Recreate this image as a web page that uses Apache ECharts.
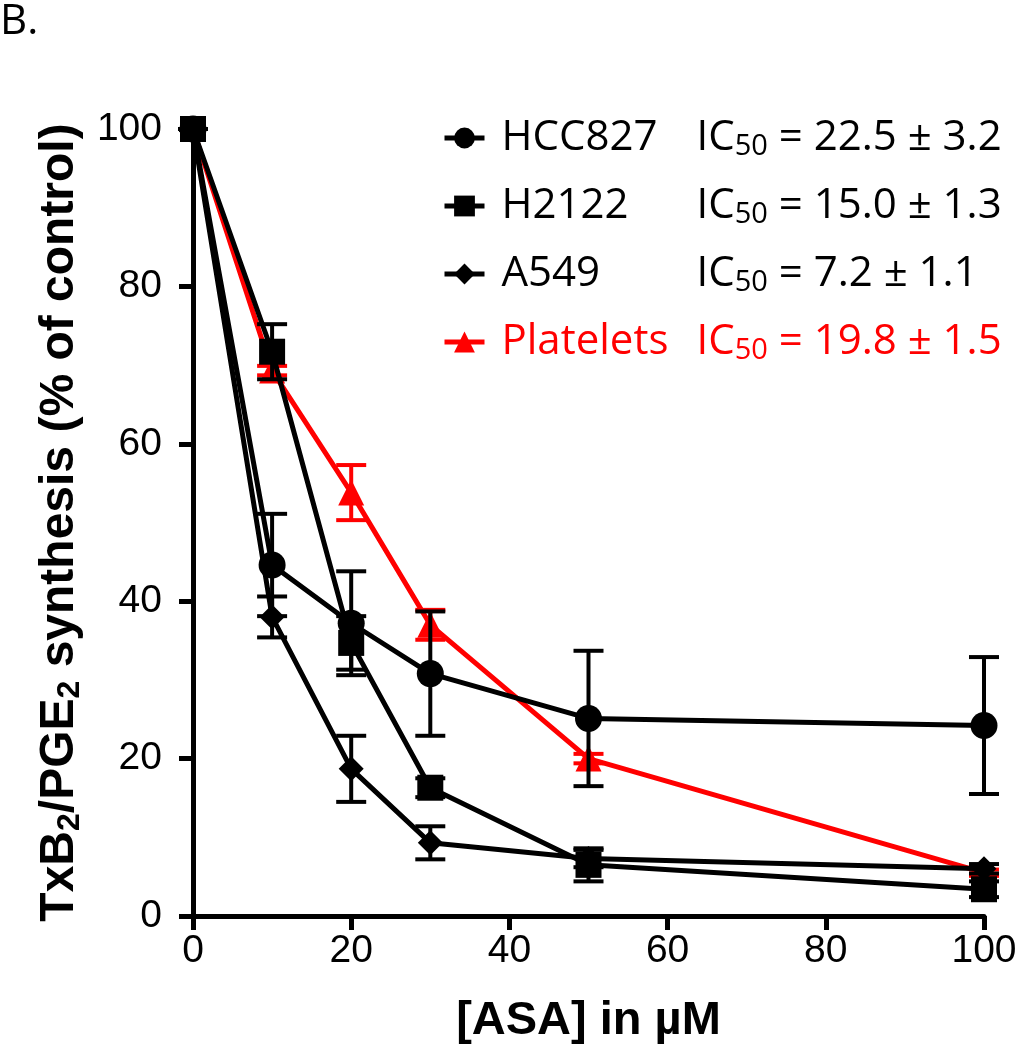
<!DOCTYPE html>
<html><head><meta charset="utf-8">
<script src="https://cdn.jsdelivr.net/npm/echarts@6/dist/echarts.min.js"></script>
<style>html,body{margin:0;padding:0;background:#fff}#c{width:1020px;height:1050px}</style>
</head><body><div id="c"></div>
<script>
const xValues = [0, 10, 20, 30, 50, 100];
const hcc827 = [100, 44.6, 37.2, 30.8, 25.1, 24.2];
const hcc827Err = [0, 6.5, 6.6, 7.9, 8.6, 8.7];
const h2122 = [100, 71.7, 34.7, 16.3, 6.5, 3.4];
const h2122Err = [0, 3.5, 3.4, 1.2, 2.1, 1.0];
const a549 = [100, 38.0, 18.7, 9.3, 7.3, 6.0];
const a549Err = [0, 2.6, 4.2, 2.1, 1.1, 0.6];
const platelets = [100, 69.3, 53.8, 37.0, 20.0, 5.5];
const plateletsErr = [0, 0.6, 3.5, 1.9, 0.6, 0.4];
const seriesNames = ['HCC827', 'H2122', 'A549', 'Platelets'];
const ic50Texts = ['= 22.5 ± 3.2', '= 15.0 ± 1.3', '= 7.2 ± 1.1', '= 19.8 ± 1.5'];
const xTicks = [0, 20, 40, 60, 80, 100];

const chart = echarts.init(document.getElementById('c'));
const pts = ys => xValues.map((x, i) => [x, ys[i]]);
const errData = (ys, es) => xValues.map((x, i) => [x, ys[i] - es[i], ys[i] + es[i]]);

function errSeries(ys, es, color, z) {
  return {
    type: 'custom', z: z, silent: true,
    data: errData(ys, es),
    renderItem: function (params, api) {
      const x = api.value(0);
      const lo = api.coord([x, api.value(1)]);
      const hi = api.coord([x, api.value(2)]);
      const hw = 15;
      const st = { stroke: color, lineWidth: 4 };
      return { type: 'group', children: [
        { type: 'line', shape: { x1: lo[0], y1: lo[1], x2: hi[0], y2: hi[1] }, style: st },
        { type: 'line', shape: { x1: lo[0] - hw, y1: lo[1], x2: lo[0] + hw, y2: lo[1] }, style: st },
        { type: 'line', shape: { x1: hi[0] - hw, y1: hi[1], x2: hi[0] + hw, y2: hi[1] }, style: st }
      ]};
    }
  };
}
function lineSeries(name, ys, color, symbol, size, z) {
  return {
    name: name, type: 'line', z: z, data: pts(ys),
    symbol: symbol, symbolSize: size, showAllSymbol: true,
    lineStyle: { color: color, width: 5 },
    itemStyle: { color: color },
    emphasis: { disabled: true }, animation: false
  };
}
const colors = ['#000', '#000', '#000', '#ff0000'];

chart.setOption({
  animation: false,
  backgroundColor: '#fff',
  grid: { left: 193, right: 36, top: 129, bottom: 131 },
  graphic: [{ type: 'text', left: 0, top: 1,
    style: { text: 'B.', font: '42px "Open Sans"', fill: '#000' } }],
  legend: {
    orient: 'vertical', left: 437, top: 112, itemGap: 24,
    itemWidth: 40, itemHeight: 26, selectedMode: false,
    lineStyle: { width: 5 },
    data: seriesNames.map((n, i) => ({ name: n, textStyle: { color: colors[i] } })),
    formatter: function (name) {
      const i = seriesNames.indexOf(name);
      return '{n|' + name + '}{m|IC}{s|50}{m| ' + ic50Texts[i] + '}';
    },
    textStyle: {
      fontFamily: 'Open Sans', fontSize: 42, padding: [0, 0, 0, 12],
      rich: {
        n: { fontFamily: 'Open Sans', fontSize: 42, width: 195, lineHeight: 46 },
        m: { fontFamily: 'Open Sans', fontSize: 42, lineHeight: 46 },
        s: { fontFamily: 'Open Sans', fontSize: 29, lineHeight: 12, verticalAlign: 'bottom' }
      }
    }
  },
  xAxis: {
    type: 'value', min: 0, max: 100, interval: 20,
    name: '[ASA] in µM', nameLocation: 'middle', nameGap: 82,
    nameTextStyle: { fontFamily: 'Liberation Sans', fontWeight: 'bold', fontSize: 47, color: '#000' },
    axisLine: { lineStyle: { color: '#000', width: 5 } },
    axisTick: { length: 14, lineStyle: { color: '#000', width: 5 } },
    axisLabel: { fontFamily: 'Liberation Sans', fontSize: 39, color: '#000', margin: 16,
      formatter: v => xTicks.includes(v) ? String(v) : '' },
    splitLine: { show: false }
  },
  yAxis: {
    type: 'value', min: 0, max: 100, interval: 20,
    name: '{b|TxB}{s|2}{b|/PGE}{s|2}{b| synthesis (% of control)}',
    nameLocation: 'middle', nameGap: 100, nameRotate: 90,
    nameTextStyle: {
      fontFamily: 'Liberation Sans', fontWeight: 'bold', fontSize: 48, color: '#000',
      rich: {
        b: { fontFamily: 'Liberation Sans', fontWeight: 'bold', fontSize: 48, lineHeight: 52 },
        s: { fontFamily: 'Liberation Sans', fontWeight: 'bold', fontSize: 32, lineHeight: 12, verticalAlign: 'bottom' }
      }
    },
    axisLine: { show: true, lineStyle: { color: '#000', width: 5 } },
    axisTick: { show: true, length: 14, lineStyle: { color: '#000', width: 5 } },
    axisLabel: { fontFamily: 'Liberation Sans', fontSize: 39, color: '#000', margin: 31 },
    splitLine: { show: false }
  },
  series: [
    lineSeries('Platelets', platelets, '#ff0000', 'triangle', 26, 2),
    errSeries(platelets, plateletsErr, '#ff0000', 2),
    lineSeries('A549', a549, '#000', 'diamond', 25, 3),
    errSeries(a549, a549Err, '#000', 3),
    lineSeries('HCC827', hcc827, '#000', 'circle', 27, 4),
    errSeries(hcc827, hcc827Err, '#000', 4),
    lineSeries('H2122', h2122, '#000', 'rect', 26, 5),
    errSeries(h2122, h2122Err, '#000', 5)
  ]
});
</script></body></html>
